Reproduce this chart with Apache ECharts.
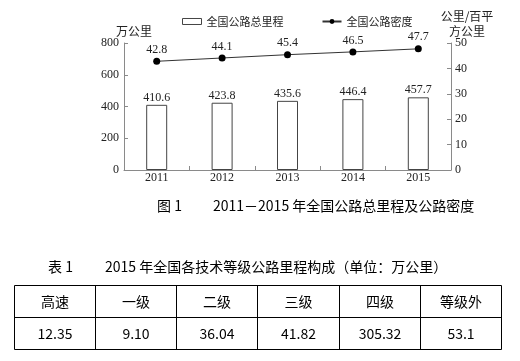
<!DOCTYPE html>
<html><head><meta charset="utf-8">
<script src="https://cdn.jsdelivr.net/npm/echarts@6/dist/echarts.min.js"></script>
<style>html,body{margin:0;padding:0;background:#fff}#c{width:520px;height:361px}</style>
</head><body><div id="c"></div>
<script>
var years = ['2011', '2012', '2013', '2014', '2015'];
var mileage = [410.6, 423.8, 435.6, 446.4, 457.7];
var density = [42.8, 44.1, 45.4, 46.5, 47.7];
var leftTicks = {min: 0, max: 800, interval: 200};
var rightTicks = {min: 0, max: 50, interval: 10};
var gradeNames = ['高速', '一级', '二级', '三级', '四级', '等级外'];
var gradeValues = ['12.35', '9.10', '36.04', '41.82', '305.32', '53.1'];

var serif = '"Liberation Serif", "Times New Roman", serif';
var cjk = '"Noto Sans CJK SC", sans-serif';
var axisColor = '#8a8a8a';

var chart = echarts.init(document.getElementById('c'), null, {renderer: 'canvas'});

// table graphics
var colX = [14.5, 95.5, 176.5, 257.5, 339.5, 420.5, 501.5];
var rowY = [285.5, 317.5, 349.5];
var g = [];
rowY.forEach(function (y) {
  g.push({type: 'line', shape: {x1: colX[0], y1: y, x2: colX[colX.length - 1], y2: y}, style: {stroke: '#000', lineWidth: 1}});
});
colX.forEach(function (x) {
  g.push({type: 'line', shape: {x1: x, y1: rowY[0], x2: x, y2: rowY[2]}, style: {stroke: '#000', lineWidth: 1}});
});
[gradeNames, gradeValues].forEach(function (row, r) {
  row.forEach(function (t, i) {
    g.push({type: 'text', x: (colX[i] + colX[i + 1]) / 2, y: (rowY[r] + rowY[r + 1]) / 2,
      style: {text: t, font: '14px ' + cjk, fill: '#000', align: 'center', verticalAlign: 'middle'}});
  });
});
// captions & unit labels
g.push({type: 'text', x: 134, y: 31, style: {text: '万公里', font: '12px ' + cjk, fill: '#222', align: 'center', verticalAlign: 'middle'}});
g.push({type: 'text', x: 467, y: 23.5, style: {text: '公里/百平\n方公里', font: '12px ' + cjk, lineHeight: 15, fill: '#222', align: 'center', verticalAlign: 'middle'}});
g.push({type: 'text', x: 157, y: 206, style: {text: '图 1', font: '14px ' + cjk, fill: '#000', align: 'left', verticalAlign: 'middle'}});
g.push({type: 'text', x: 213, y: 206, style: {text: '2011－2015 年全国公路总里程及公路密度', font: '14px ' + cjk, fill: '#000', align: 'left', verticalAlign: 'middle'}});
g.push({type: 'text', x: 48, y: 267, style: {text: '表 1', font: '14px ' + cjk, fill: '#000', align: 'left', verticalAlign: 'middle'}});
g.push({type: 'text', x: 105, y: 267, style: {text: '2015 年全国各技术等级公路里程构成（单位：万公里）', font: '14px ' + cjk, fill: '#000', align: 'left', verticalAlign: 'middle'}});

chart.setOption({
  animation: false,
  backgroundColor: '#fff',
  grid: {left: 124, right: 69, top: 43, bottom: 191, containLabel: false},
  legend: {
    left: 177, top: 11, itemGap: 38, itemWidth: 19, itemHeight: 6,
    textStyle: {fontFamily: cjk, fontSize: 11, color: '#222'},
    data: [
      {name: '全国公路总里程', icon: 'rect', itemStyle: {color: '#fff', borderColor: '#444', borderWidth: 1}},
      {name: '全国公路密度'}
    ]
  },
  xAxis: {
    type: 'category', data: years,
    axisLine: {lineStyle: {color: axisColor}},
    axisTick: {show: true, inside: true, length: 4, lineStyle: {color: axisColor}},
    axisLabel: {fontFamily: serif, fontSize: 12, color: '#222', margin: 2}
  },
  yAxis: [
    {type: 'value', min: leftTicks.min, max: leftTicks.max, interval: leftTicks.interval,
     axisLine: {show: true, lineStyle: {color: axisColor}},
     axisTick: {show: true, inside: true, length: 4, lineStyle: {color: axisColor}},
     splitLine: {show: false},
     axisLabel: {fontFamily: serif, fontSize: 12, color: '#222', margin: 5}},
    {type: 'value', min: rightTicks.min, max: rightTicks.max, interval: rightTicks.interval,
     position: 'right',
     axisLine: {show: true, lineStyle: {color: axisColor}},
     axisTick: {show: true, inside: true, length: 4, lineStyle: {color: axisColor}},
     splitLine: {show: false},
     axisLabel: {fontFamily: serif, fontSize: 12, color: '#222', margin: 4}}
  ],
  series: [
    {name: '全国公路总里程', type: 'bar', data: mileage, barWidth: 21, yAxisIndex: 0,
     itemStyle: {color: '#fff', borderColor: '#444', borderWidth: 1},
     label: {show: true, position: 'top', distance: 1, fontFamily: serif, fontSize: 12, color: '#222'}},
    {name: '全国公路密度', type: 'line', data: density, yAxisIndex: 1,
     symbol: 'circle', symbolSize: 7,
     lineStyle: {color: '#333', width: 1}, itemStyle: {color: '#000'},
     label: {show: true, position: 'top', distance: 2, fontFamily: serif, fontSize: 12, color: '#222'}}
  ],
  graphic: g
});
</script>
</body></html>
